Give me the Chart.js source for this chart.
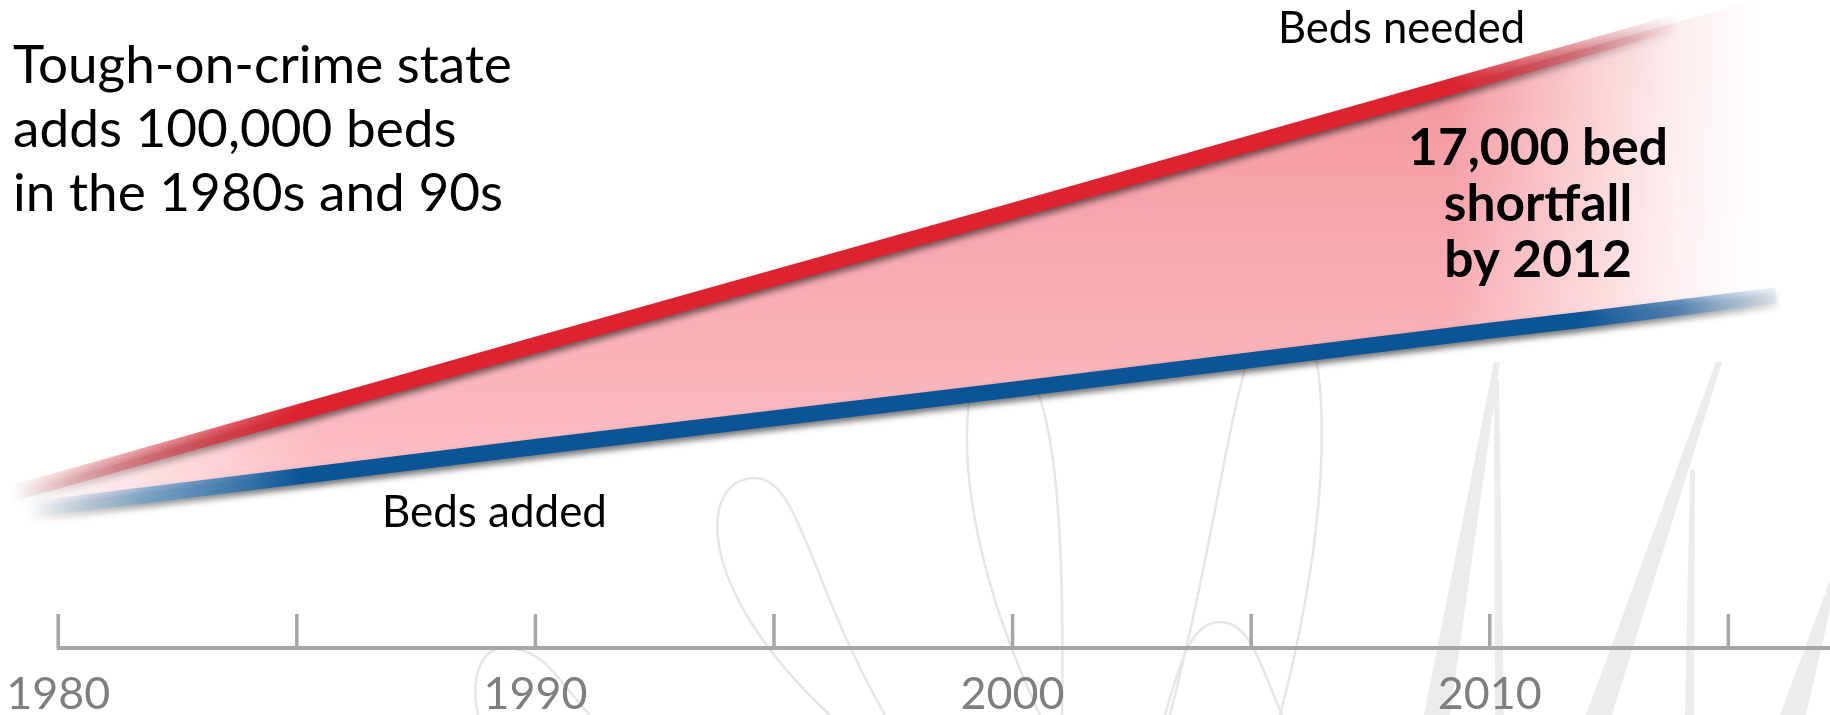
<!DOCTYPE html>
<html>
<head>
<meta charset="utf-8">
<script src="https://cdn.jsdelivr.net/npm/chart.js@4.4.1/dist/chart.umd.min.js"></script>
<style>
  html, body { margin: 0; padding: 0; background: #fff; overflow: hidden; }
  canvas { display: block; }
</style>
</head>
<body>
<canvas id="chart" width="1830" height="715"></canvas>
<script>
// years, values in thousands of beds above the axis line
let years = [1979, 1980, 1990, 2000, 2010, 2012, 2016]
let bedsNeeded = [9.7, 10.5, 19.0, 27.4, 35.9, 37.6, 41.0]
let bedsAdded = [8.6, 8.9, 12.6, 16.2, 19.9, 20.6, 22.1]
let tickYears = [1980, 1985, 1990, 1995, 2000, 2005, 2010, 2015]
let tickLabels = ['1980', '', '1990', '', '2000', '', '2010', '']
let titleLines = ['Tough-on-crime state', 'adds 100,000 beds', 'in the 1980s and 90s']
let shortfallLines = ['17,000 bed', 'shortfall', 'by 2012']

//canvas and context
let elCanvas = document.getElementById('chart')
let ctx = elCanvas.getContext('2d')

//font size that gives a text a wanted width
let measureCtx = document.createElement('canvas').getContext('2d')
let fitSize = function(text, weight, width) {
    measureCtx.font = weight + ' 100px Lato'
    return 100 * width / measureCtx.measureText(text).width
}
let tickSize = fitSize('2010', '400', 104)

//red line fades in on the left and out on the right
let redStroke = ctx.createLinearGradient(0, 0, 1830, 0)
redStroke.addColorStop(10 / 1830, 'rgba(221,34,48,0)')
redStroke.addColorStop(130 / 1830, 'rgba(225,60,72,0.45)')
redStroke.addColorStop(300 / 1830, 'rgba(221,34,48,1)')
redStroke.addColorStop(1450 / 1830, 'rgba(221,34,48,1)')
redStroke.addColorStop(1570 / 1830, 'rgba(228,70,82,0.5)')
redStroke.addColorStop(1680 / 1830, 'rgba(235,120,130,0)')

//blue line, lighter blue while fading
let blueStroke = ctx.createLinearGradient(0, 0, 1830, 0)
blueStroke.addColorStop(25 / 1830, 'rgba(200,225,245,0)')
blueStroke.addColorStop(80 / 1830, 'rgba(150,195,230,0.35)')
blueStroke.addColorStop(150 / 1830, 'rgba(100,160,210,0.7)')
blueStroke.addColorStop(300 / 1830, 'rgba(11,85,150,1)')
blueStroke.addColorStop(1580 / 1830, 'rgba(11,85,150,1)')
blueStroke.addColorStop(1680 / 1830, 'rgba(60,120,180,0.75)')
blueStroke.addColorStop(1740 / 1830, 'rgba(140,185,225,0.45)')
blueStroke.addColorStop(1800 / 1830, 'rgba(200,225,245,0)')

//pink fill: darker at the top, fading to white at both ends
let fillCanvas = document.createElement('canvas')
fillCanvas.width = 1830
fillCanvas.height = 715
let fc = fillCanvas.getContext('2d')
let vg = fc.createLinearGradient(0, 40, 0, 520)
vg.addColorStop(0, '#f3949c')
vg.addColorStop(1, '#fdc3c8')
fc.fillStyle = vg
fc.fillRect(0, 0, 1830, 715)
fc.globalCompositeOperation = 'destination-in'
let hg = fc.createLinearGradient(0, 0, 1830, 0)
hg.addColorStop(30 / 1830, 'rgba(0,0,0,0)')
hg.addColorStop(120 / 1830, 'rgba(0,0,0,0.4)')
hg.addColorStop(320 / 1830, 'rgba(0,0,0,1)')
hg.addColorStop(1450 / 1830, 'rgba(0,0,0,1)')
hg.addColorStop(1580 / 1830, 'rgba(0,0,0,0.5)')
hg.addColorStop(1680 / 1830, 'rgba(0,0,0,0.15)')
hg.addColorStop(1760 / 1830, 'rgba(0,0,0,0)')
fc.fillStyle = hg
fc.fillRect(0, 0, 1830, 715)
let pinkFill = ctx.createPattern(fillCanvas, 'no-repeat')

let toPoints = function(values) {
    return values.map((v, i) => ({ x: years[i], y: v }))
}

//faint script watermark behind the chart
let watermark = {
    id: 'watermark',
    beforeDraw: function(chart) {
        let c = chart.ctx
        c.save()
        c.strokeStyle = '#e6e6e6'
        c.lineWidth = 2.5
        //left foot, right foot, top x, top y, left bulge, right bulge
        let loops = [
            [478, 590, 505, 648, 480, 545],
            [830, 885, 755, 478, 700, 800],
            [1040, 1062, 1000, 352, 955, 1055],
            [1170, 1280, 1284, 306, 1238, 1330],
            [1165, 1282, 1220, 622, 1190, 1250]
        ]
        loops.forEach(function(l) {
            let cy = l[3] + (715 - l[3]) * 0.45
            c.beginPath()
            c.moveTo(l[0], 715)
            c.bezierCurveTo(l[4] - 10, cy, l[4], l[3], l[2], l[3])
            c.bezierCurveTo(l[5], l[3], l[5] + 10, cy, l[1], 715)
            c.stroke()
        })
        c.fillStyle = '#ececec'
        let shapes = [
            [[1494, 362], [1500, 362], [1450, 715], [1424, 715]],
            [[1494, 380], [1499, 380], [1504, 715], [1495, 715]],
            [[1716, 362], [1722, 362], [1612, 715], [1586, 715]],
            [[1690, 470], [1695, 470], [1694, 715], [1685, 715]],
            [[1830, 580], [1830, 610], [1806, 715], [1780, 715]]
        ]
        shapes.forEach(function(s) {
            c.beginPath()
            c.moveTo(s[0][0], s[0][1])
            s.slice(1).forEach(p => c.lineTo(p[0], p[1]))
            c.closePath()
            c.fill()
        })
        c.restore()
    }
}

//soft dark shadow under each line
let lineShadow = {
    id: 'lineShadow',
    beforeDatasetDraw: function(chart) {
        let c = chart.ctx
        c.save()
        c.shadowColor = 'rgba(0,0,0,0.55)'
        c.shadowBlur = 6
        c.shadowOffsetX = 1
        c.shadowOffsetY = 4
    },
    afterDatasetDraw: function(chart) {
        chart.ctx.restore()
    }
}

//axis line with upward tick marks, starting at the first tick
let axisTicks = {
    id: 'axisTicks',
    afterDraw: function(chart) {
        let c = chart.ctx
        let xs = chart.scales.x
        let yAxis = chart.chartArea.bottom
        c.save()
        c.strokeStyle = '#a6a6a6'
        c.lineWidth = 4
        c.beginPath()
        c.moveTo(xs.getPixelForValue(tickYears[0]) - 1.5, yAxis)
        c.lineTo(chart.width, yAxis)
        c.stroke()
        c.lineWidth = 3.5
        tickYears.forEach(function(t) {
            let px = xs.getPixelForValue(t)
            c.beginPath()
            c.moveTo(px, yAxis)
            c.lineTo(px, yAxis - 34)
            c.stroke()
        })
        c.restore()
    }
}

//text annotations
let labels = {
    id: 'labels',
    afterDraw: function(chart) {
        let c = chart.ctx
        c.save()
        c.fillStyle = '#000'
        c.textBaseline = 'alphabetic'
        c.textAlign = 'left'
        c.font = '400 ' + fitSize(titleLines[0], '400', 499) + 'px Lato'
        titleLines.forEach((t, i) => c.fillText(t, 13, 83 + i * 64))
        c.font = '400 ' + fitSize('Beds needed', '400', 247) + 'px Lato'
        c.fillText('Beds needed', 1278, 43)
        c.font = '400 ' + fitSize('Beds added', '400', 225) + 'px Lato'
        c.fillText('Beds added', 382, 527)
        c.textAlign = 'center'
        c.font = '700 ' + fitSize(shortfallLines[0], '700', 260) + 'px Lato'
        shortfallLines.forEach((t, i) => c.fillText(t, 1538, 165 + i * 56))
        c.restore()
    }
}

let chart = new Chart(ctx, {
    type: 'line',
    data: {
        datasets: [
            {
                label: 'Beds needed',
                data: toPoints(bedsNeeded),
                borderColor: redStroke,
                borderWidth: 16,
                backgroundColor: pinkFill,
                fill: { target: 1 },
                pointRadius: 0,
                tension: 0,
                clip: false
            },
            {
                label: 'Beds added',
                data: toPoints(bedsAdded),
                borderColor: blueStroke,
                borderWidth: 16,
                fill: false,
                pointRadius: 0,
                tension: 0,
                clip: false
            }
        ]
    },
    options: {
        responsive: false,
        animation: false,
        devicePixelRatio: 1,
        layout: { padding: 0 },
        plugins: {
            legend: { display: false },
            tooltip: { enabled: false },
            filler: { drawTime: 'beforeDatasetsDraw' }
        },
        scales: {
            x: {
                type: 'linear',
                min: 1978.78,
                max: 2017.13,
                afterBuildTicks: function(s) { s.ticks = tickYears.map(v => ({ value: v })) },
                afterFit: function(s) {
                    s.height = 67
                    s.paddingLeft = 0
                    s.paddingRight = 0
                },
                grid: { display: false, drawTicks: false },
                border: { display: false },
                ticks: {
                    callback: (v, i) => tickLabels[i],
                    font: { family: 'Lato', size: tickSize },
                    color: '#7f7f7f',
                    padding: 20,
                    maxRotation: 0,
                    autoSkip: false
                }
            },
            y: { display: false, min: 0, max: 40.63 }
        }
    },
    plugins: [watermark, lineShadow, axisTicks, labels]
})
</script>
</body>
</html>
